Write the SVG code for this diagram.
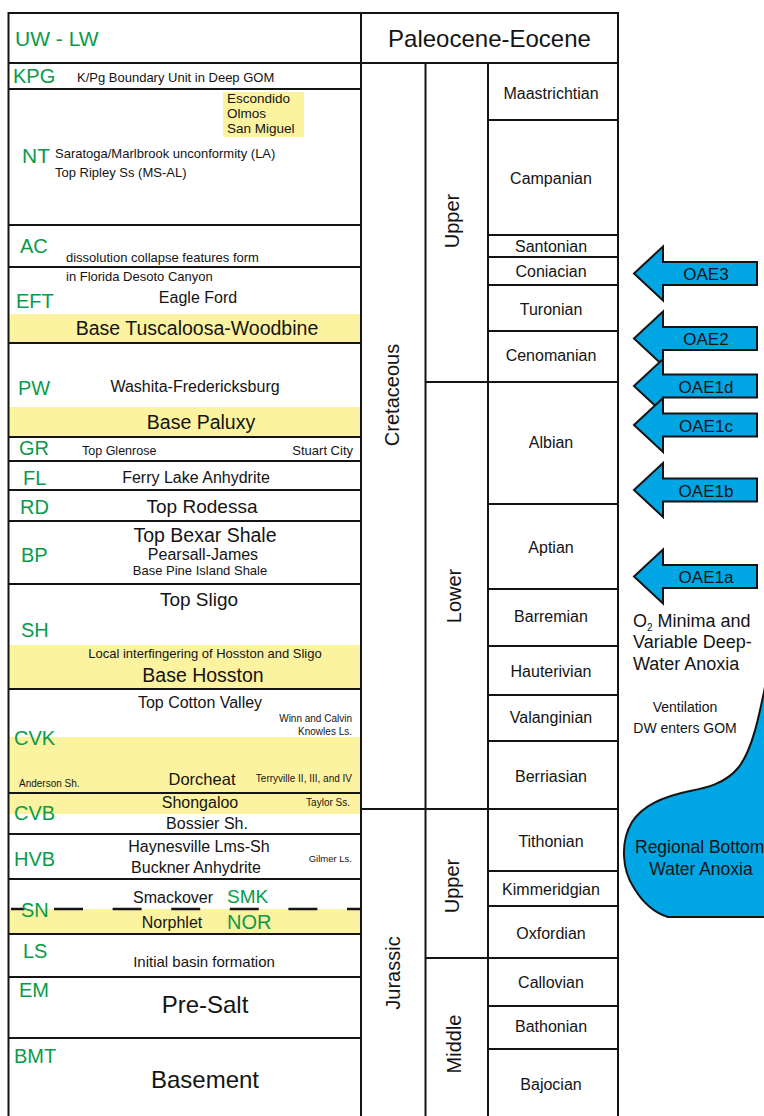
<svg xmlns="http://www.w3.org/2000/svg" width="764" height="1116" viewBox="0 0 764 1116">
<style>
text{font-family:"Liberation Sans",Arial,Helvetica,sans-serif;fill:#141414}
.g{fill:#0a9a4a;font-size:20px}
.c{text-anchor:middle}
.e{text-anchor:end}
.st{font-size:16px;text-anchor:middle}
.v{font-size:20px;text-anchor:middle}
.ln{stroke:#141414;stroke-width:2;fill:none}
.y{fill:#fcf3a0}
.arr{fill:#00a5e3;stroke:#141414;stroke-width:2;stroke-linejoin:miter}
.at{font-size:17px;text-anchor:middle}
.s13{font-size:13px}
.s16{font-size:16px}
.s19{font-size:19.5px}
.s10{font-size:10px}
</style>
<defs>
<polygon id="arrow" points="0,0 29,-27 29,-11.5 123,-11.5 123,11.5 29,11.5 29,27"/>
</defs>
<rect x="0" y="0" width="764" height="1116" fill="#ffffff"/>

<g id="highlights">
<rect class="y" x="223" y="92" width="81" height="45"/>
<rect class="y" x="9" y="314" width="352" height="29"/>
<rect class="y" x="9" y="407" width="352" height="30"/>
<rect class="y" x="9" y="645" width="352" height="44"/>
<rect class="y" x="9" y="737" width="352" height="77"/>
<rect class="y" x="9" y="909" width="352" height="25"/>
</g>

<g id="grid" class="ln">
<polyline points="8.5,1116 8.5,13 618,13 618,1116"/>
<line x1="361" y1="13" x2="361" y2="1116"/>
<line x1="8.5" y1="63" x2="618" y2="63"/>
<line x1="425.5" y1="63" x2="425.5" y2="1116"/>
<line x1="488" y1="63" x2="488" y2="1116"/>
<line x1="9" y1="89" x2="361" y2="89"/>
<line x1="9" y1="225" x2="361" y2="225"/>
<line x1="9" y1="267" x2="361" y2="267"/>
<line x1="9" y1="343" x2="361" y2="343"/>
<line x1="9" y1="437" x2="361" y2="437"/>
<line x1="9" y1="461" x2="361" y2="461"/>
<line x1="9" y1="490" x2="361" y2="490"/>
<line x1="9" y1="521" x2="361" y2="521"/>
<line x1="9" y1="584" x2="361" y2="584"/>
<line x1="9" y1="689" x2="361" y2="689"/>
<line x1="9" y1="793" x2="361" y2="793"/>
<line x1="9" y1="834" x2="361" y2="834"/>
<line x1="9" y1="879" x2="361" y2="879"/>
<line x1="9" y1="934" x2="361" y2="934"/>
<line x1="9" y1="977" x2="361" y2="977"/>
<line x1="9" y1="1038" x2="361" y2="1038"/>
<line x1="11" y1="909" x2="360" y2="909" stroke-width="2.6" stroke-dasharray="29 29.6" stroke-dashoffset="15.6"/>
<line x1="361" y1="809" x2="618" y2="809"/>
<line x1="425.5" y1="382" x2="618" y2="382"/>
<line x1="425.5" y1="958" x2="618" y2="958"/>
<line x1="488" y1="120" x2="618" y2="120"/>
<line x1="488" y1="235" x2="618" y2="235"/>
<line x1="488" y1="257" x2="618" y2="257"/>
<line x1="488" y1="285" x2="618" y2="285"/>
<line x1="488" y1="331" x2="618" y2="331"/>
<line x1="488" y1="504" x2="618" y2="504"/>
<line x1="488" y1="589" x2="618" y2="589"/>
<line x1="488" y1="646" x2="618" y2="646"/>
<line x1="488" y1="695" x2="618" y2="695"/>
<line x1="488" y1="741" x2="618" y2="741"/>
<line x1="488" y1="871" x2="618" y2="871"/>
<line x1="488" y1="906" x2="618" y2="906"/>
<line x1="488" y1="1006" x2="618" y2="1006"/>
<line x1="488" y1="1049" x2="618" y2="1049"/>
</g>

<g id="units">
<text class="g" x="15" y="46" style="font-size:21px">UW - LW</text>
<text class="g" x="13" y="83">KPG</text>
<text class="s13" x="77" y="82">K/Pg Boundary Unit in Deep GOM</text>
<text x="227" y="103" style="font-size:13.5px">Escondido</text>
<text x="227" y="118" style="font-size:13.5px">Olmos</text>
<text x="227" y="133" style="font-size:13.5px">San Miguel</text>
<text class="g" x="22" y="163" style="font-size:21px">NT</text>
<text class="s13" x="55" y="158">Saratoga/Marlbrook unconformity (LA)</text>
<text class="s13" x="55" y="177">Top Ripley Ss (MS-AL)</text>
<text class="g" x="20" y="253">AC</text>
<text class="s13" x="66" y="262">dissolution collapse features form</text>
<text class="s13" x="66" y="281">in Florida Desoto Canyon</text>
<text class="g" x="16" y="308">EFT</text>
<text class="s16 c" x="198" y="303">Eagle Ford</text>
<text class="s19 c" x="197" y="335">Base Tuscaloosa-Woodbine</text>
<text class="g" x="18" y="395">PW</text>
<text class="s16 c" x="195" y="392">Washita-Fredericksburg</text>
<text class="s19 c" x="201" y="429">Base Paluxy</text>
<text class="g" x="19" y="455">GR</text>
<text x="82" y="455" style="font-size:12.5px">Top Glenrose</text>
<text class="s13 e" x="353" y="455">Stuart City</text>
<text class="g" x="23" y="485">FL</text>
<text class="s16 c" x="196" y="483">Ferry Lake Anhydrite</text>
<text class="g" x="20" y="514">RD</text>
<text class="c" x="202" y="513" style="font-size:19px">Top Rodessa</text>
<text class="g" x="21" y="562">BP</text>
<text class="s19 c" x="205" y="542">Top Bexar Shale</text>
<text class="s16 c" x="203" y="560">Pearsall-James</text>
<text class="s13 c" x="200" y="575">Base Pine Island Shale</text>
<text class="c" x="199" y="606" style="font-size:19px">Top Sligo</text>
<text class="g" x="21" y="637">SH</text>
<text class="s13 c" x="205" y="658">Local interfingering of Hosston and Sligo</text>
<text class="s19 c" x="203" y="682">Base Hosston</text>
<text class="s16 c" x="200" y="708">Top Cotton Valley</text>
<text class="s10 e" x="352" y="722">Winn and Calvin</text>
<text class="s10 e" x="352" y="735">Knowles Ls.</text>
<text class="g" x="14" y="745">CVK</text>
<text class="s10" x="19" y="787">Anderson Sh.</text>
<text class="c" x="202" y="785" style="font-size:16.5px">Dorcheat</text>
<text class="s10 e" x="352" y="782">Terryville II, III, and IV</text>
<text class="s16 c" x="200" y="808">Shongaloo</text>
<text class="s10 e" x="350" y="806">Taylor Ss.</text>
<text class="g" x="14" y="820">CVB</text>
<text class="s16 c" x="207" y="829">Bossier Sh.</text>
<text class="g" x="14" y="866">HVB</text>
<text class="s16 c" x="199" y="852">Haynesville Lms-Sh</text>
<text class="s16 c" x="196" y="873">Buckner Anhydrite</text>
<text class="e" x="352" y="862" style="font-size:9.5px">Gilmer Ls.</text>
<text class="s16 c" x="173" y="903">Smackover</text>
<text class="g" x="227" y="903" style="font-size:19px">SMK</text>
<text class="g" x="21" y="917">SN</text>
<text class="s16 c" x="172" y="928">Norphlet</text>
<text class="g" x="227" y="929">NOR</text>
<text class="g" x="23" y="958">LS</text>
<text class="c" x="204" y="967" style="font-size:15px">Initial basin formation</text>
<text class="g" x="19" y="997">EM</text>
<text class="c" x="205" y="1013" style="font-size:24px">Pre-Salt</text>
<text class="g" x="14" y="1063">BMT</text>
<text class="c" x="205" y="1088" style="font-size:24px">Basement</text>
</g>

<g id="timescale">
<text class="c" x="489.5" y="47" style="font-size:24px">Paleocene-Eocene</text>
<text class="v" transform="translate(399,395) rotate(-90)">Cretaceous</text>
<text class="v" transform="translate(400,973) rotate(-90)">Jurassic</text>
<text class="v" transform="translate(459,221) rotate(-90)">Upper</text>
<text class="v" transform="translate(461,596) rotate(-90)">Lower</text>
<text class="v" transform="translate(459,886) rotate(-90)">Upper</text>
<text class="v" transform="translate(461,1044) rotate(-90)">Middle</text>
<text class="st" x="551" y="99">Maastrichtian</text>
<text class="st" x="551" y="184">Campanian</text>
<text class="st" x="551" y="252">Santonian</text>
<text class="st" x="551" y="277">Coniacian</text>
<text class="st" x="551" y="315">Turonian</text>
<text class="st" x="551" y="361">Cenomanian</text>
<text class="st" x="551" y="448">Albian</text>
<text class="st" x="551" y="553">Aptian</text>
<text class="st" x="551" y="622">Barremian</text>
<text class="st" x="551" y="677">Hauterivian</text>
<text class="st" x="551" y="723">Valanginian</text>
<text class="st" x="551" y="782">Berriasian</text>
<text class="st" x="551" y="847">Tithonian</text>
<text class="st" x="551" y="895">Kimmeridgian</text>
<text class="st" x="551" y="939">Oxfordian</text>
<text class="st" x="551" y="988">Callovian</text>
<text class="st" x="551" y="1032">Bathonian</text>
<text class="st" x="551" y="1090">Bajocian</text>
</g>

<g id="oae-events">
<g id="oae3"><use href="#arrow" class="arr" transform="translate(634,273.5)"/><text class="at" x="706" y="280">OAE3</text></g>
<g id="oae2"><use href="#arrow" class="arr" transform="translate(634,338.5)"/><text class="at" x="706" y="345">OAE2</text></g>
<g id="oae1d"><use href="#arrow" class="arr" transform="translate(634,386)"/><text class="at" x="706" y="392.5">OAE1d</text></g>
<g id="oae1c"><use href="#arrow" class="arr" transform="translate(634,425)"/><text class="at" x="706" y="431.5">OAE1c</text></g>
<g id="oae1b"><use href="#arrow" class="arr" transform="translate(634,490)"/><text class="at" x="706" y="496.5">OAE1b</text></g>
<g id="oae1a"><use href="#arrow" class="arr" transform="translate(634,576.5)"/><text class="at" x="706" y="583">OAE1a</text></g>
</g>

<g id="anoxia-notes">
<text x="633" y="627" style="font-size:18px">O<tspan style="font-size:10px" dy="4">2</tspan><tspan dy="-4"> Minima and</tspan></text>
<text x="633" y="648" style="font-size:18px">Variable Deep-</text>
<text x="633" y="670" style="font-size:18px">Water Anoxia</text>
<text class="c" x="685" y="712" style="font-size:14px">Ventilation</text>
<text class="c" x="685" y="733" style="font-size:14px">DW enters GOM</text>
</g>

<g id="bottom-anoxia">
<path d="M 768,672 C 760,712 753,750 738,768 C 725,784 705,788 690,791 C 665,796 642,806 632,822 C 620,842 622,870 634,888 C 643,903 655,913 668,917 L 768,917 Z" fill="#00a5e3" stroke="#141414" stroke-width="2"/>
<text x="635" y="853" style="font-size:17.5px">Regional Bottom</text>
<text class="c" x="701" y="875" style="font-size:17.5px">Water Anoxia</text>
</g>
</svg>
